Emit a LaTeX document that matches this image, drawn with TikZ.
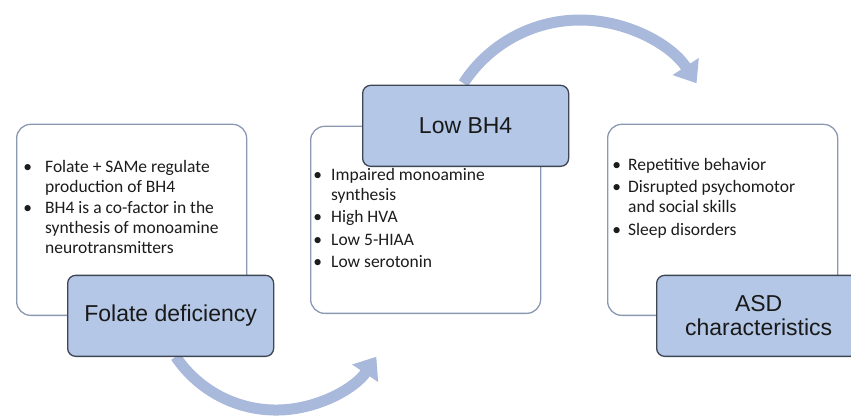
\documentclass[tikz,border=0pt]{standalone}
\usepackage{fontspec}
\setmainfont{Carlito}
\newfontfamily\arialf{Liberation Sans}
\usetikzlibrary{arrows.meta}
\definecolor{boxblue}{HTML}{B4C7E7}
\definecolor{boxedge}{HTML}{3E4654}
\definecolor{whiteedge}{HTML}{8A98B2}
\definecolor{arrowblue}{HTML}{A9B9DB}
\definecolor{txt}{HTML}{1C1C1C}
\newcommand\bitem[2]{\llap{\textbullet\hspace{#1}}#2}
\begin{document}
\begin{tikzpicture}[x=1bp,y=1bp,
  panel/.style={draw=whiteedge, line width=1.3bp, fill=white, rounded corners=14bp,
    minimum width=230bp, minimum height=191bp, inner sep=0, anchor=south west},
  titlebox/.style={draw=boxedge, line width=1.3bp, fill=boxblue, rounded corners=8bp,
    minimum width=206bp, minimum height=81bp, inner sep=0, anchor=south west,
    font=\arialf\fontsize{23bp}{24bp}\selectfont, text=black!90, align=center},
  bullets/.style={anchor=base west, inner sep=0, text=txt},
  bigarrow/.style={draw=arrowblue, line width=11bp, -{Triangle[width=30bp,length=20bp]}}
]
\useasboundingbox (0,0) rectangle (851,417);
% arrows
\coordinate (a1s) at (175.7,60.3);
\coordinate (a2s) at (463.4,333.7);
\draw[bigarrow] (a1s) arc[start angle=214, end angle=326, radius=121];
\draw[bigarrow] (a2s) arc[start angle=147, end angle=33, radius=139];
% panels
\node[panel] (p1) at (16,101) {};
\node[panel, minimum height=187bp] (p2) at (310,103) {};
\node[panel] (p3) at (607,101) {};
% bullet texts
\node[bullets] (b1) at (45,245) {\fontsize{17.5bp}{20bp}\selectfont\begin{tabular}[t]{@{}l@{}}
\bitem{13bp}{Folate + SAMe regulate}\\
production of BH4\\[1bp]
\bitem{13bp}{BH4 is a co-factor in the}\\
synthesis of monoamine\\
neurotransmitters
\end{tabular}};
\node[bullets] (b2) at (331,237) {\fontsize{17.5bp}{20bp}\selectfont\begin{tabular}[t]{@{}l@{}}
\bitem{9bp}{Impaired monoamine}\\
synthesis\\[2.5bp]
\bitem{9bp}{High HVA}\\[2.5bp]
\bitem{9bp}{Low 5-HIAA}\\[2.5bp]
\bitem{9bp}{Low serotonin}
\end{tabular}};
\node[bullets] (b3) at (628,247) {\fontsize{17.5bp}{20bp}\selectfont\begin{tabular}[t]{@{}l@{}}
\bitem{7bp}{Repetitive behavior}\\[2.5bp]
\bitem{7bp}{Disrupted psychomotor}\\
and social skills\\[2.5bp]
\bitem{7bp}{Sleep disorders}
\end{tabular}};
% title boxes
\node[titlebox] (t1) at (67,60) {Folate deficiency};
\node[titlebox] (t2) at (362,250) {Low BH4};
\node[titlebox, minimum width=204bp] (t3) at (656,60) {ASD\\characteristics};
\end{tikzpicture}
\end{document}
